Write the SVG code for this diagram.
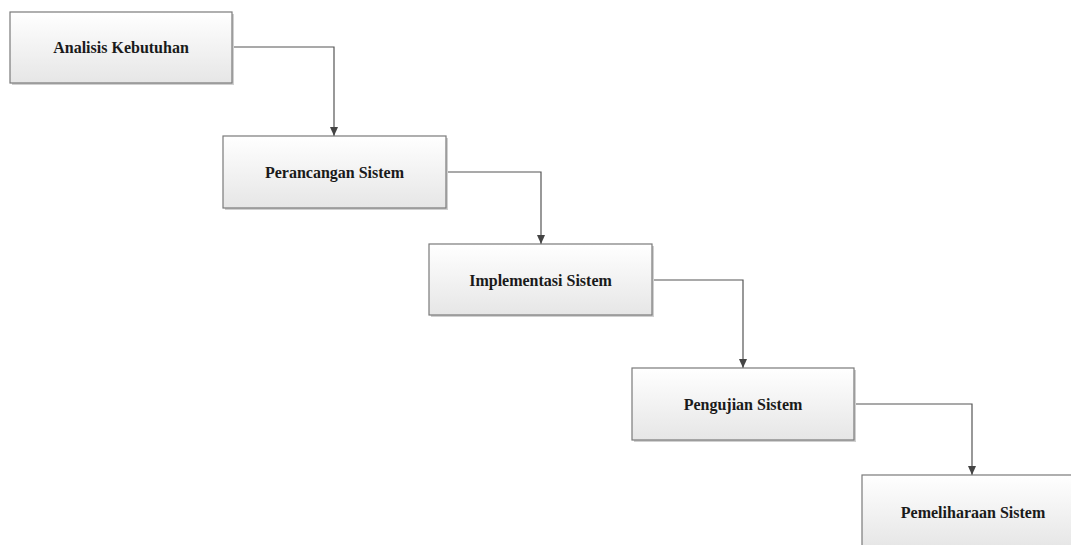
<svg xmlns="http://www.w3.org/2000/svg" width="1071" height="545" viewBox="0 0 1071 545">
<style>
.box{fill:url(#g);stroke:#7a7a7a;stroke-width:1.2}
.sh{fill:#d0d0d0}
.lbl{font-family:"Liberation Serif",serif;font-weight:bold;font-size:16px;fill:#1a1a1a;text-anchor:middle;dominant-baseline:central}
.con{fill:none;stroke:#555;stroke-width:1.2;marker-end:url(#arr)}
</style>
<defs>
<linearGradient id="g" x1="0" y1="0" x2="0" y2="1">
<stop offset="0" stop-color="#ffffff"/>
<stop offset="1" stop-color="#e6e6e6"/>
</linearGradient>
<marker id="arr" markerWidth="10" markerHeight="10" refX="9" refY="5" orient="auto" markerUnits="userSpaceOnUse">
<path d="M0,1 L9,5 L0,9 Z" fill="#444"/>
</marker>
</defs>
<rect width="1071" height="545" fill="#ffffff"/>
<g id="connectors">
<path class="con" d="M232,47 H334 V136"/>
<path class="con" d="M446,172 H541 V244"/>
<path class="con" d="M652,280 H743 V368"/>
<path class="con" d="M854,404 H972 V475"/>
</g>
<g id="n1">
<rect class="sh" x="12" y="14" width="222" height="71"/>
<rect class="box" x="10" y="12" width="222" height="71"/>
<text class="lbl" x="121" y="47">Analisis Kebutuhan</text>
</g>
<g id="n2">
<rect class="sh" x="225" y="138" width="223" height="72"/>
<rect class="box" x="223" y="136" width="223" height="72"/>
<text class="lbl" x="334.5" y="172">Perancangan Sistem</text>
</g>
<g id="n3">
<rect class="sh" x="431" y="246" width="223" height="71"/>
<rect class="box" x="429" y="244" width="223" height="71"/>
<text class="lbl" x="540.5" y="280">Implementasi Sistem</text>
</g>
<g id="n4">
<rect class="sh" x="634" y="370" width="222" height="72"/>
<rect class="box" x="632" y="368" width="222" height="72"/>
<text class="lbl" x="743" y="404">Pengujian Sistem</text>
</g>
<g id="n5">
<rect class="box" x="862" y="475" width="222" height="72"/>
<text class="lbl" x="973" y="512">Pemeliharaan Sistem</text>
</g>
</svg>
